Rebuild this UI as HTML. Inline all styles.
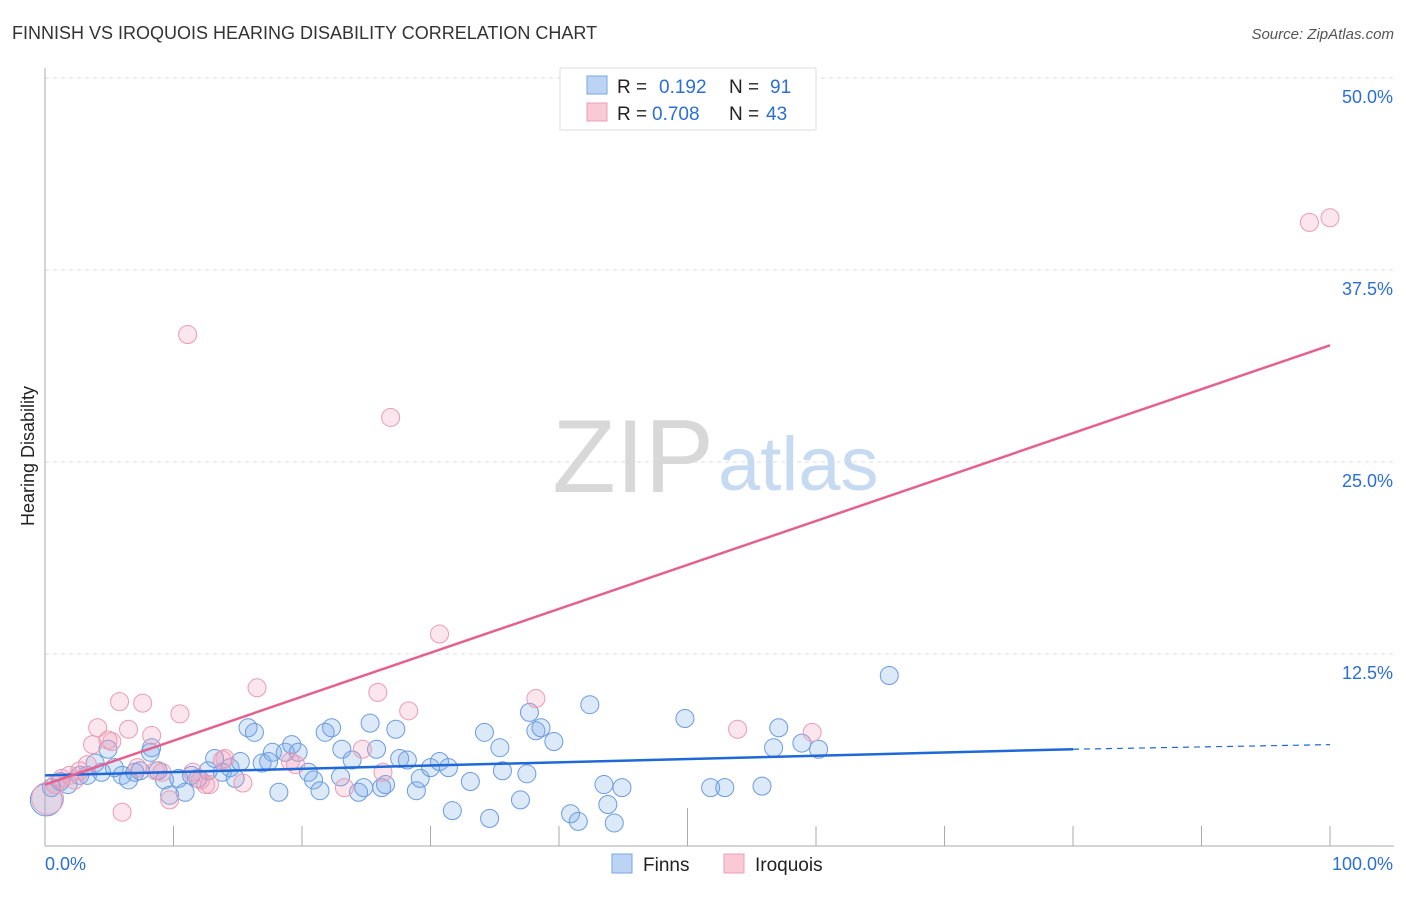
<!DOCTYPE html>
<html><head><meta charset="utf-8"><style>
body{margin:0;background:#fff;font-family:"Liberation Sans",sans-serif;}
svg text{font-family:"Liberation Sans",sans-serif;}
</style></head><body>
<svg id="chart" width="1406" height="892" xmlns="http://www.w3.org/2000/svg">
<text x="12" y="39" font-size="18" fill="#333">FINNISH VS IROQUOIS HEARING DISABILITY CORRELATION CHART</text>
<text x="1394" y="39" font-size="15" fill="#555" text-anchor="end" font-style="italic">Source: ZipAtlas.com</text>
<g id="grid"></g>
<text x="714" y="492" font-size="104" fill="#d8d8d8" text-anchor="end" font-family="Liberation Serif">ZIP</text>
<text x="718" y="490" font-size="76" fill="#c6daf2">atlas</text>
<g id="marks"></g>
<text transform="translate(34,456) rotate(-90)" font-size="18" fill="#222" text-anchor="middle">Hearing Disability</text>
<g>
<rect x="560" y="68" width="256" height="62" fill="#fff" stroke="#ddd"/>
<rect x="587" y="76" width="20" height="18" fill="#bcd4f4" stroke="#7aa6e3"/>
<rect x="587" y="103" width="20" height="18" fill="#f9c9d6" stroke="#eb9fb6"/>
<text x="617" y="93" font-size="19" fill="#222">R = </text><text x="659" y="93" font-size="19" fill="#2a6fd6">0.192</text>
<text x="729" y="93" font-size="19" fill="#222">N = </text><text x="770" y="93" font-size="19" fill="#2a6fd6">91</text>
<text x="617" y="120" font-size="19" fill="#222">R = </text><text x="652" y="120" font-size="19" fill="#2a6fd6">0.708</text>
<text x="729" y="120" font-size="19" fill="#222">N = </text><text x="766" y="120" font-size="19" fill="#2a6fd6">43</text>
</g>
<g>
<rect x="612" y="854" width="20" height="19" fill="#bcd4f4" stroke="#7aa6e3"/>
<text x="643" y="871" font-size="19" fill="#222">Finns</text>
<rect x="724" y="854" width="20" height="19" fill="#f9c9d6" stroke="#eb9fb6"/>
<text x="755" y="871" font-size="19" fill="#222">Iroquois</text>
</g>
</svg>
<script>
const finnsX=[0.5,1.2,1.8,2.7,3.3,3.9,4.4,4.9,5.4,6.0,6.5,7.0,7.4,8.2,8.3,8.8,9.3,9.7,10.4,10.9,11.4,11.9,12.7,13.2,13.8,14.4,14.8,15.2,15.8,16.3,16.9,17.4,17.7,18.2,18.7,19.2,19.7,20.5,20.9,21.4,21.8,22.3,23.0,23.1,23.9,24.4,24.8,25.3,25.8,26.2,26.5,27.3,27.6,28.2,28.9,29.2,30.0,30.7,31.4,31.7,33.1,34.2,34.6,35.4,35.6,37.0,37.5,37.7,38.2,38.6,39.6,40.9,41.5,42.4,43.5,43.8,44.3,44.9,49.8,51.8,52.9,55.8,56.7,57.1,58.9,60.2,65.7,0.1];
const finnsY=[3.8,4.2,4.0,4.6,4.6,5.4,4.8,6.3,5.1,4.6,4.3,4.8,4.9,6.1,6.4,4.9,4.3,3.3,4.4,3.5,4.6,4.4,4.9,5.7,4.8,5.1,4.4,5.5,7.7,7.4,5.4,5.5,6.1,3.5,6.1,6.6,6.1,4.8,4.3,3.6,7.4,7.7,4.5,6.3,5.6,3.5,3.8,8.0,6.3,3.8,4.0,7.6,5.7,5.6,3.6,4.4,5.1,5.5,5.1,2.3,4.2,7.4,1.8,6.4,4.9,3.0,4.7,8.7,7.5,7.7,6.8,2.1,1.6,9.2,4.0,2.7,1.5,3.8,8.3,3.8,3.8,3.9,6.4,7.7,6.7,6.3,11.1,3.0];
const iroqX=[0.2,0.8,1.3,1.9,2.3,2.7,3.3,3.7,4.1,4.9,5.2,5.8,6.0,6.5,7.2,7.6,8.3,8.6,9.1,9.7,10.5,11.1,11.5,12.1,12.5,12.8,13.8,14.0,15.4,16.5,19.1,19.5,23.3,24.7,25.9,26.3,26.9,28.3,30.7,38.2,53.9,59.7,98.4,100.0];
const iroqY=[3.1,4.0,4.4,4.6,4.3,4.9,5.3,6.6,7.7,6.9,6.8,9.4,2.2,7.6,5.1,9.3,7.2,4.9,4.8,3.0,8.6,33.3,4.8,4.3,4.0,4.0,5.6,5.7,4.1,10.3,5.5,5.3,3.8,6.3,10.0,4.8,27.9,8.8,13.8,9.6,7.6,7.4,40.6,40.9];
const yTicks=[12.5,25.0,37.5,50.0];
const xTicks=[0,10,20,30,40,50,60,70,80,90,100];
const finnsTrend=[4.6,6.3,6.6]; // at x=0, 80, 100
const iroqTrend=[4.0,32.6]; // at x=0, 100
const X=v=>45+v*12.85, Y=v=>846-v*15.36;
const NS='http://www.w3.org/2000/svg';
function mk(parent,tag,attrs){const e=document.createElementNS(NS,tag);for(const k in attrs)e.setAttribute(k,attrs[k]);parent.appendChild(e);return e;}
const grid=document.getElementById('grid'), marks=document.getElementById('marks');
yTicks.forEach(t=>{
 const l=mk(grid,'line',{x1:45,x2:1394,y1:Y(t),y2:Y(t),stroke:'#ddd','stroke-dasharray':'4,4'});
 
 
 const tx=mk(grid,'text',{x:1393,y:Y(t)+25,'font-size':18,fill:'#2a6fd6','text-anchor':'end'});
 tx.textContent=t.toFixed(1)+'%';
 
 
});
let ax=mk(grid,'line',{x1:45,x2:45,y1:68,y2:846,stroke:'#aaa'});


ax=mk(grid,'line',{x1:45,x2:1394,y1:846,y2:846,stroke:'#aaa'});


xTicks.forEach(t=>{
 if(t===0)return;
 const l=mk(grid,'line',{x1:X(t),x2:X(t),y1:t===50?808:826,y2:846,stroke:'#aaa'});
 
 
});
[[0,'start',45],[100,'end',1393]].forEach(([v,a,x])=>{
 const tx=mk(grid,'text',{x:x,y:870,'font-size':18,fill:'#2a6fd6','text-anchor':a});
 tx.textContent=v.toFixed(1)+'%';
 
 
});
function dots(xs,ys,fill,stroke,name){
 xs.forEach((v,i)=>{
  const big=(i===xs.length-1&&name==='finns-point')||(i===0&&name==='iroquois-point');
  const c=mk(marks,'circle',{cx:X(v),cy:Y(ys[i]),r:big?16:9,fill:fill,stroke:stroke,'stroke-width':1});
  
  
 });
}
dots(finnsX,finnsY,'rgba(120,170,232,0.26)','#6a9be0','finns-point');
dots(iroqX,iroqY,'rgba(242,150,178,0.24)','#eb9bb4','iroquois-point');
let tl=mk(marks,'line',{x1:X(0),y1:Y(finnsTrend[0]),x2:X(80),y2:Y(finnsTrend[1]),stroke:'#1f68d8','stroke-width':2.5});


tl=mk(marks,'line',{x1:X(80),y1:Y(finnsTrend[1]),x2:X(100),y2:Y(finnsTrend[2]),stroke:'#1f68d8','stroke-width':1.2,'stroke-dasharray':'6,5'});


tl=mk(marks,'line',{x1:X(0),y1:Y(iroqTrend[0]),x2:X(100),y2:Y(iroqTrend[1]),stroke:'#e6608f','stroke-width':2.5});


</script>
</body></html>
